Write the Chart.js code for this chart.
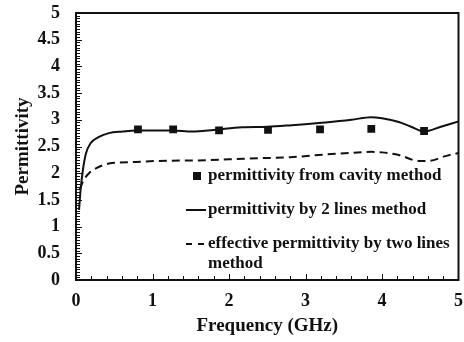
<!DOCTYPE html>
<html>
<head>
<meta charset="utf-8">
<script src="https://cdn.jsdelivr.net/npm/chart.js@4"></script>
<style>
  body { margin: 0; background: #fff; }
  canvas { display: block; }
</style>
</head>
<body>
<canvas id="chart" width="464" height="342"></canvas>
<script>
// cavity method measurements
const cavityFreq = [0.81, 1.27, 1.87, 2.51, 3.19, 3.86, 4.55];
const cavityPerm = [2.82, 2.82, 2.80, 2.81, 2.82, 2.83, 2.79];

// 2 lines method
const lineFreq = [0.04, 0.06, 0.09, 0.13, 0.19, 0.3, 0.43, 0.61, 0.78, 1.0, 1.26, 1.52, 1.8, 2.17, 2.5, 2.82, 3.26, 3.6, 3.86, 4.0, 4.22, 4.38, 4.55, 4.77, 5.0];
const linePerm = [1.31, 1.69, 2.06, 2.37, 2.56, 2.68, 2.75, 2.78, 2.8, 2.8, 2.8, 2.78, 2.81, 2.86, 2.87, 2.9, 2.95, 3.0, 3.05, 3.03, 2.96, 2.87, 2.78, 2.87, 2.97];

// effective permittivity by two lines
const effFreq = [0.05, 0.1, 0.17, 0.26, 0.43, 0.78, 1.09, 1.6, 2.0, 2.39, 2.8, 3.26, 3.6, 3.86, 4.0, 4.22, 4.48, 4.6, 4.83, 5.0];
const effPerm = [1.7, 1.87, 2.0, 2.09, 2.18, 2.21, 2.23, 2.24, 2.26, 2.28, 2.3, 2.35, 2.38, 2.4, 2.39, 2.34, 2.23, 2.23, 2.32, 2.38];

const seriesLabels = ['permittivity from cavity method', 'permittivity by 2 lines method', 'effective permittivity by two lines method'];

const xTicks = [0, 1, 2, 3, 4, 5];
const yTicks = [0, 0.5, 1, 1.5, 2, 2.5, 3, 3.5, 4, 4.5, 5];

const FONT = '"Liberation Serif", "Times New Roman", serif';
const INK = '#111';

const toPts = (xs, ys) => xs.map((x, i) => ({ x, y: ys[i] }));

// frame + inward tick marks
const framePlugin = {
  id: 'frame',
  afterDatasetsDraw(chart) {
    const { ctx, chartArea: a, scales } = chart;
    ctx.save();
    ctx.strokeStyle = INK;
    ctx.lineWidth = 1;
    ctx.beginPath();
    for (let i = 1; i < 100; i++) {
      const py = Math.round(scales.y.getPixelForValue(i * 0.05)) + 0.5;
      const len = (i % 10 === 0) ? 6 : 4;
      ctx.moveTo(a.left, py);
      ctx.lineTo(a.left + len, py);
    }
    for (let i = 1; i < 25; i++) {
      const px = Math.round(scales.x.getPixelForValue(i * 0.2)) + 0.5;
      const len = (i % 5 === 0) ? 6 : 4;
      ctx.moveTo(px, a.bottom);
      ctx.lineTo(px, a.bottom - len);
    }
    ctx.stroke();
    ctx.lineWidth = 2;
    ctx.strokeRect(a.left, a.top, a.right - a.left, a.bottom - a.top);
    ctx.restore();
  }
};

// legend drawn inside the plot area
const legendPlugin = {
  id: 'innerLegend',
  afterDraw(chart) {
    const { ctx } = chart;
    ctx.save();
    ctx.fillStyle = INK;
    ctx.strokeStyle = INK;
    ctx.font = 'bold 17px ' + FONT;
    ctx.textBaseline = 'middle';
    ctx.textAlign = 'left';
    const tx = 208;
    ctx.fillRect(193, 172, 8, 8);
    ctx.fillText(seriesLabels[0], tx, 176);
    ctx.lineWidth = 2;
    ctx.beginPath();
    ctx.moveTo(186, 210);
    ctx.lineTo(206, 210);
    ctx.stroke();
    ctx.fillText(seriesLabels[1], tx, 210);
    ctx.setLineDash([6, 6]);
    ctx.beginPath();
    ctx.moveTo(186, 244);
    ctx.lineTo(206, 244);
    ctx.stroke();
    ctx.setLineDash([]);
    ctx.fillText('effective permittivity by two lines', tx, 244);
    ctx.fillText('method', tx, 264);
    ctx.restore();
  }
};

new Chart(document.getElementById('chart'), {
  type: 'scatter',
  data: {
    datasets: [
      {
        label: seriesLabels[0],
        data: toPts(cavityFreq, cavityPerm),
        pointStyle: 'rect',
        pointRadius: 5.5,
        backgroundColor: INK,
        borderColor: INK,
        borderWidth: 0,
        showLine: false
      },
      {
        label: seriesLabels[1],
        data: toPts(lineFreq, linePerm),
        showLine: true,
        borderColor: INK,
        borderWidth: 2,
        pointRadius: 0,
        cubicInterpolationMode: 'monotone',
        fill: false
      },
      {
        label: seriesLabels[2],
        data: toPts(effFreq, effPerm),
        showLine: true,
        borderColor: INK,
        borderWidth: 2,
        borderDash: [8, 5],
        pointRadius: 0,
        cubicInterpolationMode: 'monotone',
        fill: false
      }
    ]
  },
  options: {
    responsive: false,
    animation: false,
    layout: { padding: { top: 13, right: 3, left: 0, bottom: 0 } },
    plugins: {
      legend: { display: false },
      tooltip: { enabled: false }
    },
    scales: {
      x: {
        type: 'linear',
        min: 0,
        max: 5,
        afterBuildTicks: s => { s.ticks = xTicks.map(v => ({ value: v })); },
        afterFit: s => { s.height = 62; s.paddingLeft = 0; s.paddingRight = 0; },
        grid: { display: false, drawTicks: false },
        border: { display: false },
        ticks: {
          color: INK, padding: 11,
          font: { family: FONT, size: 18, weight: 'bold' },
          callback: v => String(v)
        },
        title: {
          display: true,
          text: 'Frequency (GHz)',
          color: INK,
          padding: { top: 0, bottom: 5 },
          font: { family: FONT, size: 19, weight: 'bold' }
        }
      },
      y: {
        type: 'linear',
        min: 0,
        max: 5,
        afterBuildTicks: s => { s.ticks = yTicks.map(v => ({ value: v })); },
        afterFit: s => { s.width = 76; s.paddingTop = 0; s.paddingBottom = 0; },
        grid: { display: false, drawTicks: false },
        border: { display: false },
        ticks: {
          color: INK, padding: 16,
          font: { family: FONT, size: 18, weight: 'bold' },
          callback: v => String(v)
        },
        title: {
          display: true,
          text: 'Permittivity',
          color: INK,
          padding: { top: 12, bottom: 0 },
          font: { family: FONT, size: 19, weight: 'bold' }
        }
      }
    }
  },
  plugins: [framePlugin, legendPlugin]
});
</script>
</body>
</html>
